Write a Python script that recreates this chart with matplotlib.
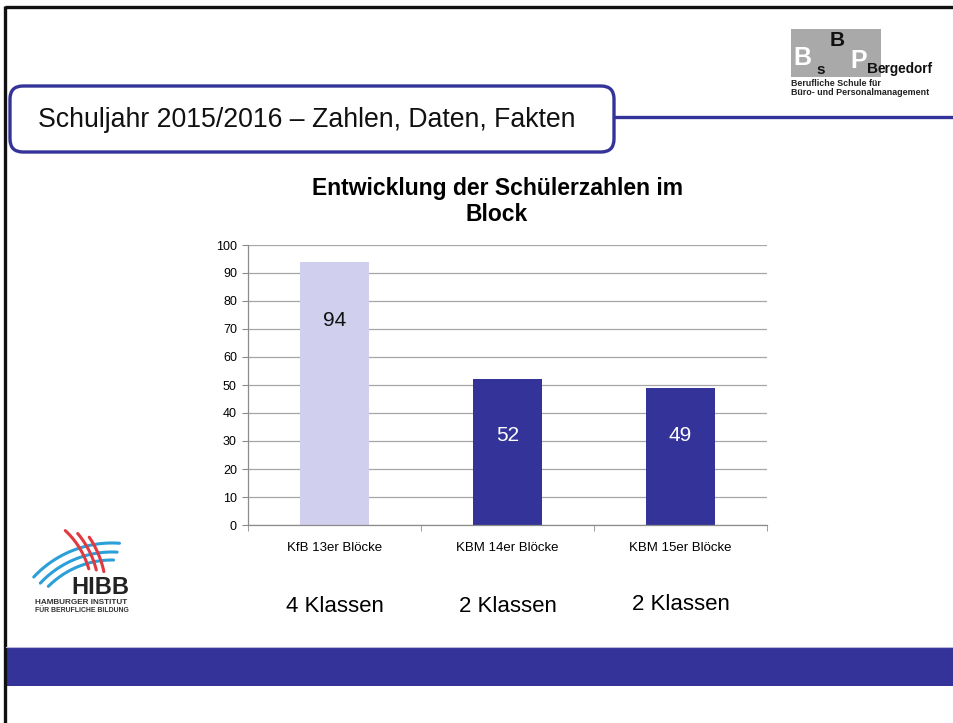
import numpy as np
import matplotlib
matplotlib.use("Agg")
import matplotlib.pyplot as plt
from matplotlib.patches import FancyBboxPatch, Rectangle
from matplotlib.ticker import FixedLocator

plt.rcParams['font.family'] = ['Liberation Sans', 'DejaVu Sans']

# chart data
categories = ["KfB 13er Blöcke", "KBM 14er Blöcke", "KBM 15er Blöcke"]
students = [94, 52, 49]
class_labels = ["4 Klassen", "2 Klassen", "2 Klassen"]
chart_title = "Entwicklung der Schülerzahlen im\nBlock"
slide_title = "Schuljahr 2015/2016 – Zahlen, Daten, Fakten"

NAVY = "#333399"
LAVENDER = "#d0d0ee"
W, H = 954, 723

fig = plt.figure(figsize=(W / 100, H / 100), dpi=100)

# overlay in pixel coordinates for the slide decoration
deco = fig.add_axes([0, 0, 1, 1], zorder=0)
deco.set_xlim(0, W)
deco.set_ylim(H, 0)
deco.axis("off")

# frame lines
deco.plot([5, W], [7, 7], color="#111111", lw=2.4, solid_capstyle="butt")
deco.plot([5, 5], [6, H], color="#111111", lw=2.4, solid_capstyle="butt")

# title box and rule
box = FancyBboxPatch((10, 86), 604, 66, boxstyle="round,pad=0,rounding_size=13",
                     fc="white", ec=NAVY, lw=2.4)
deco.add_patch(box)
deco.plot([614, W], [117, 117], color=NAVY, lw=2.4, solid_capstyle="butt")
deco.text(38, 120, slide_title, fontsize=19.2, va="center", ha="left", color="#111111")

# BSPB logo
deco.add_patch(Rectangle((791, 29), 90, 48, fc="#a9a9a9", ec="none"))
deco.text(802, 58, "B", fontsize=18, fontweight="bold", color="white", ha="center", va="center")
deco.text(821, 70, "s", fontsize=11, fontweight="bold", color="#111111", ha="center", va="center")
deco.text(837, 41, "B", fontsize=15, fontweight="bold", color="#111111", ha="center", va="center")
deco.text(859, 61, "P", fontsize=18, fontweight="bold", color="white", ha="center", va="center")
deco.text(867, 73, "B", fontsize=11, fontweight="bold", color="#111111", ha="left", va="baseline")
deco.text(878, 73, "ergedorf", fontsize=9.8, fontweight="bold", color="#111111", ha="left",
          va="baseline")
deco.text(791, 86, "Berufliche Schule für", fontsize=6.4, fontweight="bold", color="#222222",
          ha="left", va="baseline")
deco.text(791, 95, "Büro- und Personalmanagement", fontsize=6.4, fontweight="bold",
          color="#222222", ha="left", va="baseline")

# HIBB logo
for r, a0, a1 in [(107, 86, 137), (98, 87, 137), (90, 89, 135)]:
    t = np.radians(np.linspace(a0, a1, 40))
    deco.plot(112 + r * np.cos(t), 650 - r * np.sin(t), color="#2a9fd8", lw=2.2,
              solid_capstyle="round")
for r, a0, a1 in [(84, 16, 47), (91, 14, 40), (98, 12, 34)]:
    t = np.radians(np.linspace(a0, a1, 30))
    deco.plot(8 + r * np.cos(t), 592 - r * np.sin(t), color="#e2383f",
              lw=2.2, solid_capstyle="round")
deco.text(100, 594, "HIBB", fontsize=17, fontweight="bold", color="#222222", ha="center",
          va="baseline")
deco.text(35, 604, "HAMBURGER INSTITUT", fontsize=5.85, fontweight="bold", color="#333333",
          ha="left", va="baseline")
deco.text(35, 612, "FÜR BERUFLICHE BILDUNG", fontsize=4.95, fontweight="bold", color="#333333",
          ha="left", va="baseline")

# bottom band
deco.add_patch(Rectangle((6, 647), W - 6, 39, fc=NAVY, ec="none"))
deco.plot([6, W], [646.5, 646.5], color="#b8b8dd", lw=0.8)

# chart
ax = fig.add_axes([248 / W, 1 - 525 / H, (767 - 248) / W, 280 / H], zorder=1)
ax.patch.set_alpha(0)
x = np.arange(len(categories))
colors = [LAVENDER, NAVY, NAVY]
ax.bar(x, students, width=0.4, color=colors, zorder=2)
ax.set_xlim(-0.5, len(categories) - 0.5)
ax.set_ylim(0, 100)
ax.set_yticks(np.arange(0, 101, 10))
ax.yaxis.grid(True, color="#a6a6a6", lw=0.9, zorder=0)
ax.set_axisbelow(True)
for s in ["top", "right"]:
    ax.spines[s].set_visible(False)
for s in ["left", "bottom"]:
    ax.spines[s].set_color("#8c8c8c")
    ax.spines[s].set_linewidth(0.9)
ax.set_xticks(x)
ax.set_xticklabels(categories, fontsize=9.5)
ax.xaxis.set_minor_locator(FixedLocator(np.arange(-0.5, len(categories), 1.0)))
ax.tick_params(axis="x", which="major", length=0, pad=12)
ax.tick_params(axis="x", which="minor", length=4, color="#8c8c8c")
ax.tick_params(axis="y", length=4, color="#8c8c8c", labelsize=9, pad=4)

label_y = [73, 32, 32]
label_colors = ["#111111", "white", "white"]
for xi, v, ly, c in zip(x, students, label_y, label_colors):
    ax.text(xi, ly, str(v), ha="center", va="center", fontsize=15, color=c)

fig.text(497 / W, 1 - 201.5 / H, chart_title, ha="center", va="center", fontsize=16.5,
         fontweight="bold", linespacing=1.15)

for xi, lab, ypix in zip(x, class_labels, [606, 607, 604]):
    xpix = ax.transData.transform((xi, 0))[0]
    fig.text(xpix / W, 1 - ypix / H, lab, ha="center", va="center", fontsize=16)

fig.savefig("out.png", dpi=100)
